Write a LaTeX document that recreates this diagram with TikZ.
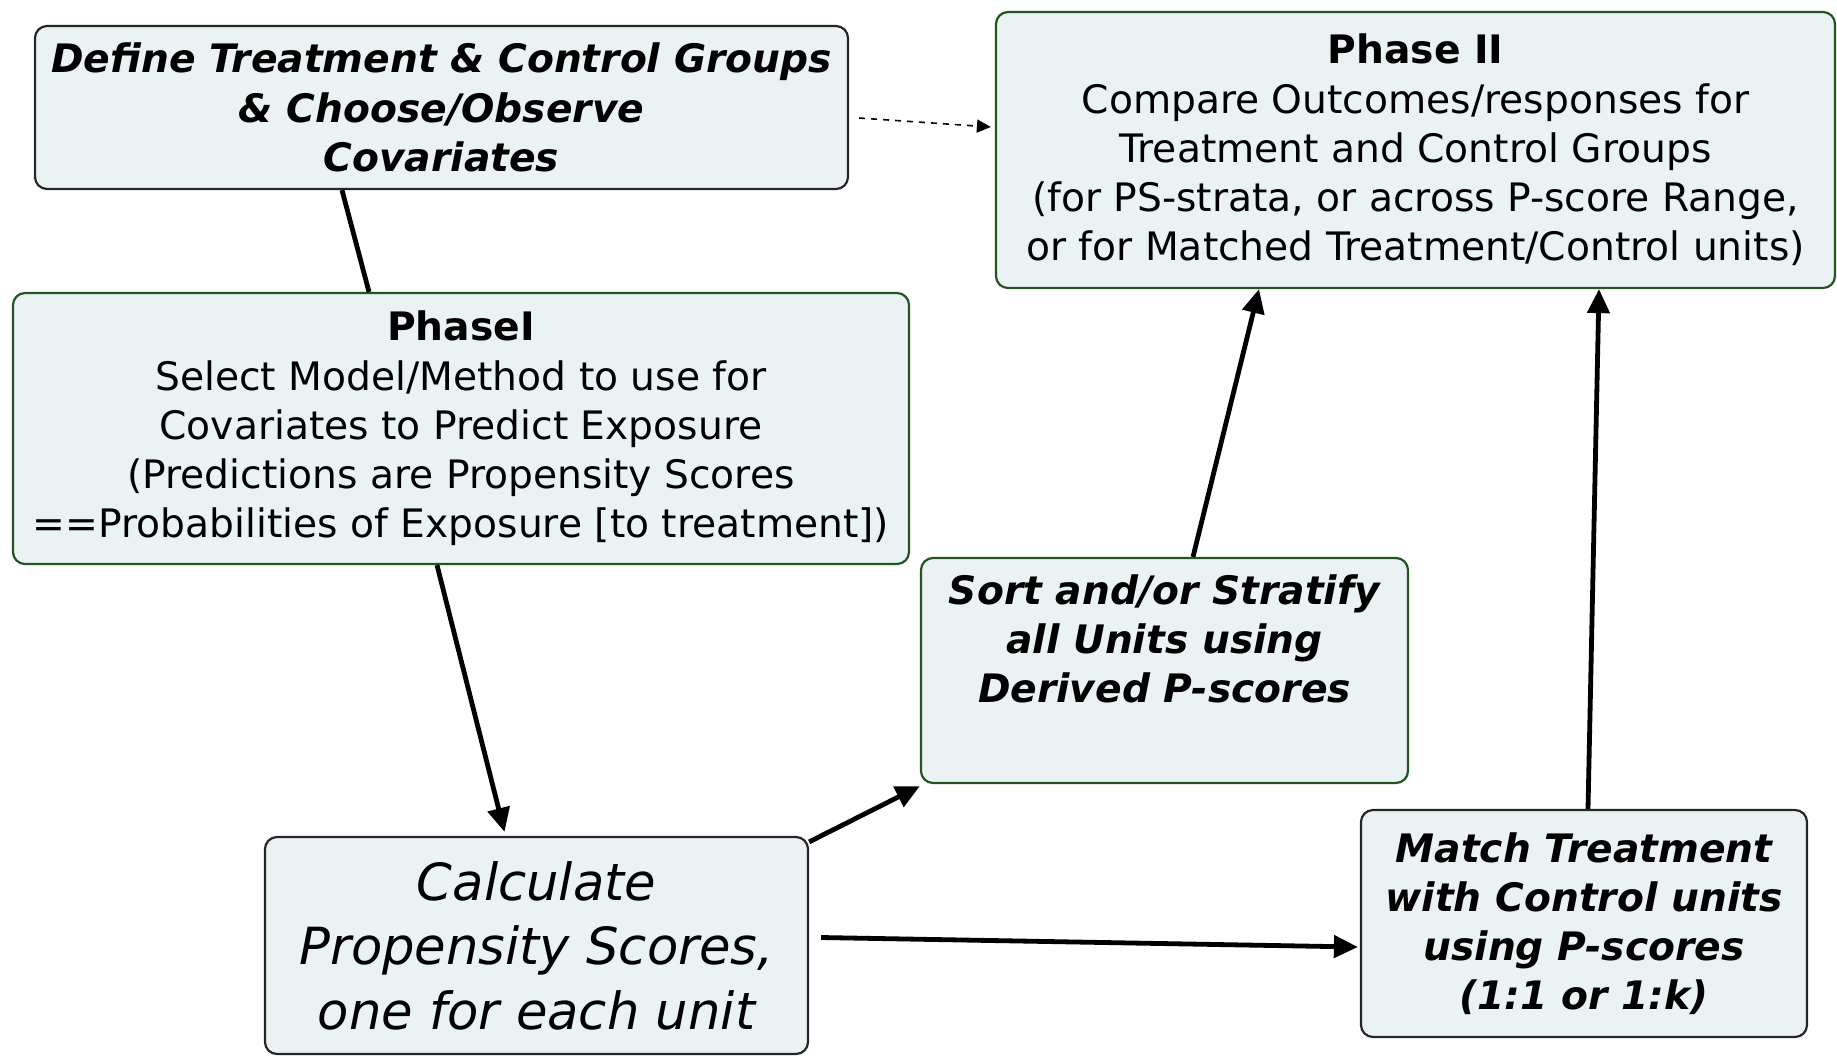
\documentclass[tikz,border=0pt]{standalone}
\usepackage{fontspec}
\setmainfont{DejaVu Sans}
\usetikzlibrary{arrows.meta,calc}
\definecolor{boxfill}{RGB}{234,242,244}
\definecolor{dgreen}{RGB}{35,85,35}
\begin{document}
\begin{tikzpicture}[x=0.5pt,y=-0.5pt,
  box/.style={draw=black!85, rounded corners=6pt, fill=boxfill, line width=1.1pt, align=center, inner sep=0pt, font=\fontsize{19.6}{24.6}\selectfont},
  gbox/.style={box, draw=dgreen},
  bi/.style={font=\bfseries\itshape\fontsize{19.6}{24.6}\selectfont},
  conn/.style={line width=2.4pt},
  arr/.style={conn, -{Triangle[length=12pt,width=11pt]}},
  darr/.style={line width=0.8pt, dash pattern=on 3pt off 3pt, -{Triangle[length=7pt,width=6.5pt]}}]
\useasboundingbox (0,0) rectangle (1837,1057);
\node[box, bi, minimum width=406.5pt, minimum height=81.5pt] (A) at (441.5,107.5)
  {Define Treatment \& Control Groups\\ \& Choose/Observe\\ Covariates};
\node[gbox, minimum width=419.5pt, minimum height=138pt] (B) at (1415.5,150)
  {{\bfseries Phase II}\\Compare Outcomes/responses for\\Treatment and Control Groups\\(for PS-strata, or across P-score Range,\\or for Matched Treatment/Control units)};
\node[gbox, minimum width=448pt, minimum height=135.5pt] (C) at (461,428.5)
  {{\bfseries PhaseI}\\Select Model/Method to use for\\Covariates to Predict Exposure\\(Predictions are Propensity Scores\\==Probabilities of Exposure [to treatment])};
\node[gbox, bi, minimum width=243.5pt, minimum height=112.5pt] (D) at (1164.5,670.5)
  {Sort and/or Stratify\\all Units using\\Derived P-scores\\ \strut};
\node[box, font=\itshape\fontsize{25.6}{32.2}\selectfont, minimum width=271.5pt, minimum height=108.5pt] (E) at (536.5,945.5)
  {Calculate\\Propensity Scores,\\one for each unit};
\node[box, bi, minimum width=223pt, minimum height=113.5pt] (F) at (1584,923.5)
  {Match Treatment\\with Control units\\using P-scores\\(1:1 or 1:k)};
\draw[conn] ([xshift=-49.75pt]A.south) -- ([xshift=-46pt]C.north);
\draw[darr] ([xshift=5pt,yshift=-5.25pt]A.east) -- ([xshift=-2pt,yshift=11.5pt]B.west);
\draw[arr] ([xshift=-12pt]C.south) -- ([xshift=-16pt,yshift=2pt]E.north);
\draw[arr] ([yshift=-3pt]E.north east) -- ([yshift=-1pt]D.south west);
\draw[arr] ([xshift=6pt,yshift=4pt]E.east) -- ([xshift=-1pt,yshift=-11.75pt]F.west);
\draw[arr] ([xshift=14.25pt]D.north) -- ([xshift=-78.25pt]B.south);
\draw[arr] ([xshift=2pt]F.north) -- ([xshift=91.75pt]B.south);
\end{tikzpicture}
\end{document}
